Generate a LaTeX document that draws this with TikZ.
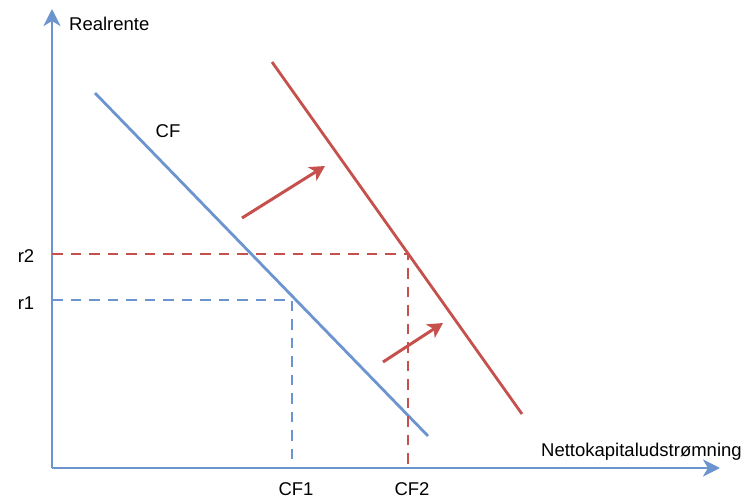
\documentclass[tikz,border=0pt]{standalone}
\usepackage{fontspec}
\setmainfont{Liberation Sans}
\usetikzlibrary{arrows.meta}
\definecolor{cfBlue}{RGB}{108,148,207}
\definecolor{cfRed}{RGB}{197,80,76}
\tikzset{
  axis/.style={cfBlue, line width=2.8pt, -{Stealth[length=17pt, width=17pt, inset=5pt]}},
  curve/.style={line width=2.8pt},
  guide/.style={line width=2.8pt, dash pattern=on 10.5pt off 8pt},
  shiftarrow/.style={cfRed, line width=3pt, -{Stealth[length=15pt, width=16pt, inset=4pt]}},
  lbl/.style={font=\fontsize{18.5}{22}\selectfont, inner sep=0pt, anchor=base},
}
\begin{document}
\begin{tikzpicture}[x=1pt, y=-1pt]
  \useasboundingbox (0,0) rectangle (745,501);
  % axes
  \coordinate (O) at (52,468);
  \coordinate (ytip) at (52,9);
  \coordinate (xtip) at (720,468);
  \draw[axis] (O) -- (ytip);
  \draw[axis] (O) -- (xtip);
  \node[lbl, anchor=base west] (ylab) at (69,30) {Realrente};
  \node[lbl, anchor=base west] (xlab) at (541,456) {Nettokapitaludstrømning};
  % curves
  \coordinate (cfa) at (95,93);
  \coordinate (cfb) at (428,436);
  \coordinate (cf2a) at (272,62);
  \coordinate (cf2b) at (522,414);
  \draw[curve, cfBlue] (cfa) -- (cfb);
  \draw[curve, cfRed] (cf2a) -- (cf2b);
  \node[lbl] (cflab) at (168,137) {CF};
  % equilibria
  \coordinate (e1) at (292,300);
  \coordinate (e2) at (408,254);
  \node[lbl] (r1) at (26,309) {r1};
  \node[lbl] (r2) at (26,262) {r2};
  \node[lbl] (q1) at (296,495) {CF1};
  \node[lbl] (q2) at (412,495) {CF2};
  \draw[guide, cfBlue] (O |- e1) -- (e1) -- (e1 |- O);
  \draw[guide, cfRed] (O |- e2) -- (e2) -- (e2 |- O);
  % shift arrows
  \coordinate (s1a) at (242,218);
  \coordinate (s1b) at (325,166);
  \coordinate (s2a) at (383,362);
  \coordinate (s2b) at (443,323);
  \draw[shiftarrow] (s1a) -- (s1b);
  \draw[shiftarrow] (s2a) -- (s2b);
\end{tikzpicture}
\end{document}
